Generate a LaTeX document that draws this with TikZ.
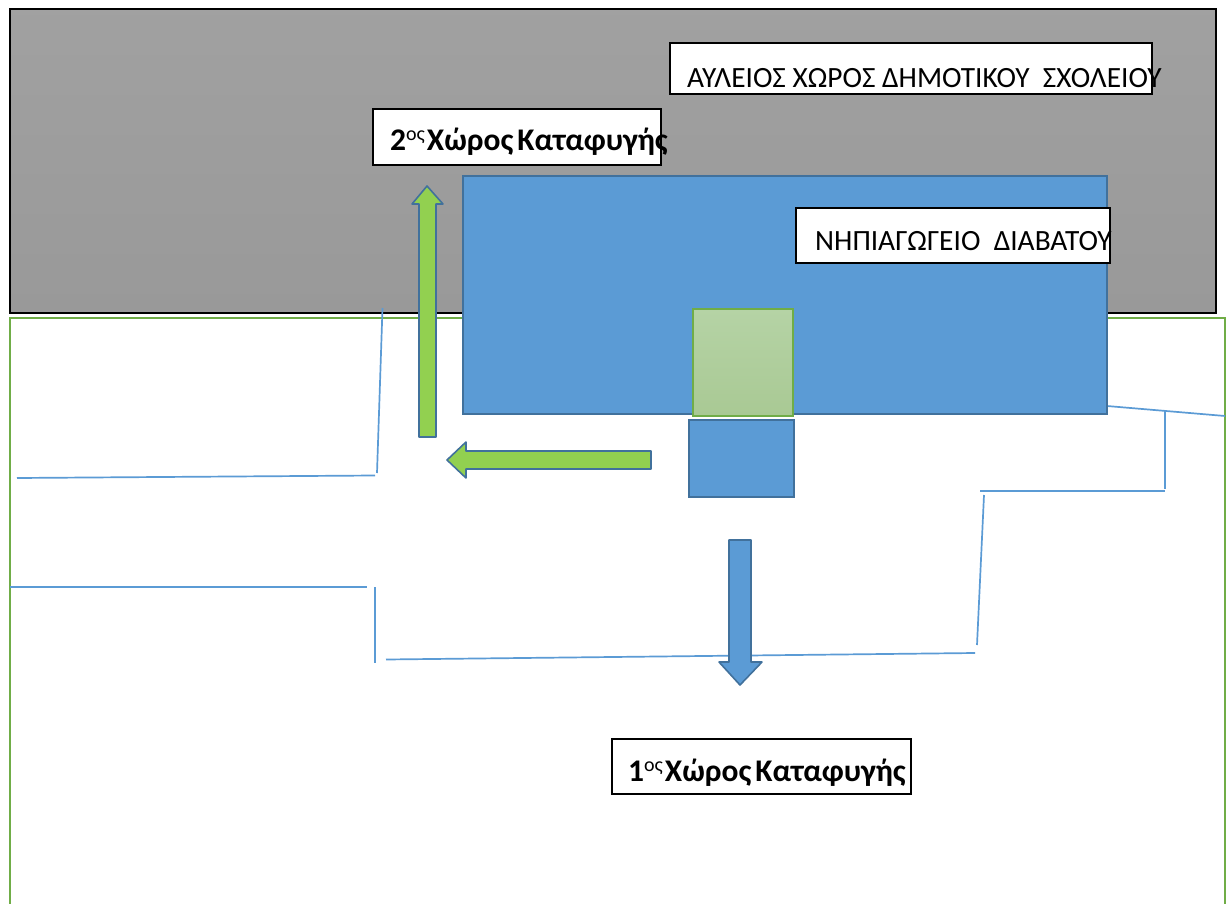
\documentclass[tikz,border=0pt]{standalone}
\usepackage{fontspec}
\setmainfont{Carlito}
\definecolor{blueA}{HTML}{5B9BD5}
\definecolor{blueB}{HTML}{41719C}
\definecolor{greenA}{HTML}{70AD47}
\definecolor{greenF}{HTML}{92D050}
\definecolor{sageTop}{HTML}{B5D3A5}
\definecolor{sageBot}{HTML}{A9C994}
\tikzset{
  x=1pt,y=-1pt,
  plan/.style={draw=blueA,line width=1.7pt},
  block/.style={fill=blueA,draw=blueB,line width=1.4pt},
  gArrow/.style={fill=greenF,draw=blueB,line width=1.6pt,line join=round},
  bArrow/.style={fill=blueA,draw=blueB,line width=1.6pt,line join=round},
  lab/.style={fill=white,draw=black,line width=1.5pt},
  txt/.style={anchor=base west,inner sep=0pt,font=\fontsize{29.4}{32}\selectfont},
  btxt/.style={anchor=base west,inner sep=0pt,font=\fontsize{31.5}{34}\selectfont\bfseries},
}
\newcommand{\supos}{\raisebox{10pt}{\fontsize{20}{20}\selectfont\mdseries ος}}
\begin{document}
\begin{tikzpicture}
\useasboundingbox (0,0) rectangle (1226,904);
\fill[white] (0,0) rectangle (1226,904);
% yard
\shade[top color=black!37,bottom color=black!40] (10,9) rectangle (1216,313);
\draw[black,line width=2.2pt] (10,9) rectangle (1216,313);
% green outline
\draw[greenA,line width=1.7pt] (10,910) -- (10,318) -- (1225,318) -- (1225,910);
% plan lines
\draw[plan] (382.5,308) -- (377,473);
\draw[plan] (17,478) -- (375,475.5);
\draw[plan] (10,587) -- (367,587);
\draw[plan] (375,587) -- (375,663);
\draw[plan] (386,659.5) -- (975,653);
\draw[plan] (977,645) -- (984,495);
\draw[plan] (980,491) -- (1165,491);
\draw[plan] (1165,411) -- (1165,489);
\draw[plan] (1107,406) -- (1225,416);
% building
\path[block] (463,176) rectangle (1107,414);
\shade[top color=sageTop,bottom color=sageBot] (693,309) rectangle (793,416);
\draw[greenA,line width=1.7pt] (693,309) rectangle (793,416);
\path[block] (689,420) rectangle (794,497);
% arrows
\path[gArrow] (427,186) -- (443,204) -- (436,204) -- (436,437) -- (419,437) -- (419,204) -- (412,204) -- cycle;
\path[gArrow] (447,460) -- (466,442) -- (466,451) -- (651,451) -- (651,469) -- (466,469) -- (466,478) -- cycle;
\path[bArrow] (740,685) -- (762,662) -- (751,662) -- (751,540) -- (729,540) -- (729,662) -- (719,662) -- cycle;
% label boxes
\path[lab] (670,43) rectangle (1152,94);
\node[txt] (yard) at (687,88) {ΑΥΛΕΙΟΣ ΧΩΡΟΣ ΔΗΜΟΤΙΚΟΥ\ \ ΣΧΟΛΕΙΟΥ};
\path[lab] (373,109) rectangle (661,165);
\node[btxt] (second) at (390,151) {2\supos\hspace{2pt}Χώρος\hspace{4pt}Καταφυγής};
\path[lab] (796,208) rectangle (1110,263);
\node[txt] (school) at (815,251) {ΝΗΠΙΑΓΩΓΕΙΟ\ \ ΔΙΑΒΑΤΟΥ};
\path[lab] (612,739) rectangle (911,794);
\node[btxt] (first) at (628,781) {1\supos\hspace{2pt}Χώρος\hspace{4pt}Καταφυγής};
\end{tikzpicture}
\end{document}
